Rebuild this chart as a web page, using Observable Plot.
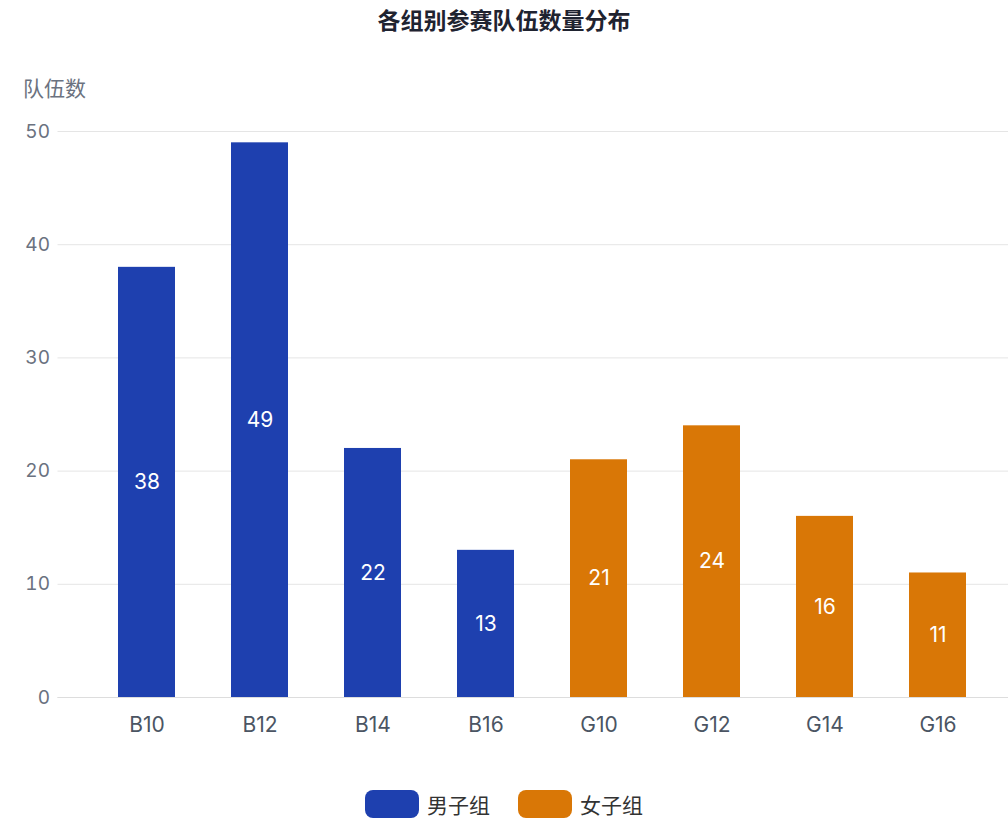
<!DOCTYPE html>
<html><head><meta charset="utf-8">
<script src="https://cdn.jsdelivr.net/npm/d3@7"></script>
<script src="https://cdn.jsdelivr.net/npm/@observablehq/plot@0.6"></script>
<style>
body{margin:0;background:#fff;font-family:Inter,"Noto Sans CJK SC",sans-serif;overflow:hidden;width:1008px}
#title{height:50px;line-height:42px;text-align:center;font-size:23px;font-weight:bold;color:#1f2330}
#legend{display:flex;justify-content:center;gap:28px;margin-top:32px;font-size:21px;color:#333}
.it{display:flex;align-items:center;gap:8px}
.sw{width:54px;height:28px;border-radius:8px}
</style></head><body>
<div id="title">各组别参赛队伍数量分布</div>
<div id="chart"></div>
<div id="legend"></div>
<script>
const groups=["B10","B12","B14","B16","G10","G12","G14","G16"];
const values=[38,49,22,13,21,24,16,11];
const series=["男子组","男子组","男子组","男子组","女子组","女子组","女子组","女子组"];
const seriesNames=["男子组","女子组"];
const colors=["#1e40af","#d97706"];
const data=groups.map((g,i)=>({g,v:values[i],s:series[i]}));
const chart=Plot.plot({
  width:1008,height:707,marginTop:81,marginBottom:60,marginLeft:57.5,marginRight:0,
  style:{fontFamily:"Inter, Noto Sans CJK SC, sans-serif",overflow:"hidden"},
  x:{domain:groups,range:[57.5,1026],padding:0.5,label:null,tickSize:0,tickPadding:20},
  y:{domain:[0,50],ticks:[0,10,20,30,40,50],grid:true,label:null,tickSize:0,tickPadding:8},
  color:{domain:seriesNames,range:colors},
  marks:[
    Plot.ruleY([0],{stroke:"#ddd"}),
    Plot.barY(data,{x:"g",y:"v",fill:"s"}),
    Plot.text(data,{x:"g",y:d=>d.v/2,text:d=>String(d.v),fill:"white",fontSize:21}),
    Plot.text(["队伍数"],{frameAnchor:"top-left",dx:-35,dy:-50,fontSize:21,fill:"#6b7280",fontFamily:"Noto Sans CJK SC"})
  ]
});
chart.querySelectorAll('g[aria-label="y-axis tick label"]').forEach(g=>{g.setAttribute("font-size","19");g.setAttribute("fill","#6b7280");});
chart.querySelectorAll('g[aria-label="x-axis tick label"]').forEach(g=>{g.setAttribute("font-size","21");g.setAttribute("fill","#4b5563");});
chart.querySelectorAll('g[aria-label="y-grid"]').forEach(g=>{g.setAttribute("stroke","#e5e5e5");g.setAttribute("stroke-opacity","1");});
document.getElementById("chart").appendChild(chart);
const lg=document.getElementById("legend");
seriesNames.forEach((n,i)=>{lg.innerHTML+=`<div class="it"><div class="sw" style="background:${colors[i]}"></div><span style="font-family:'Noto Sans CJK SC'">${n}</span></div>`;});
</script></body></html>
